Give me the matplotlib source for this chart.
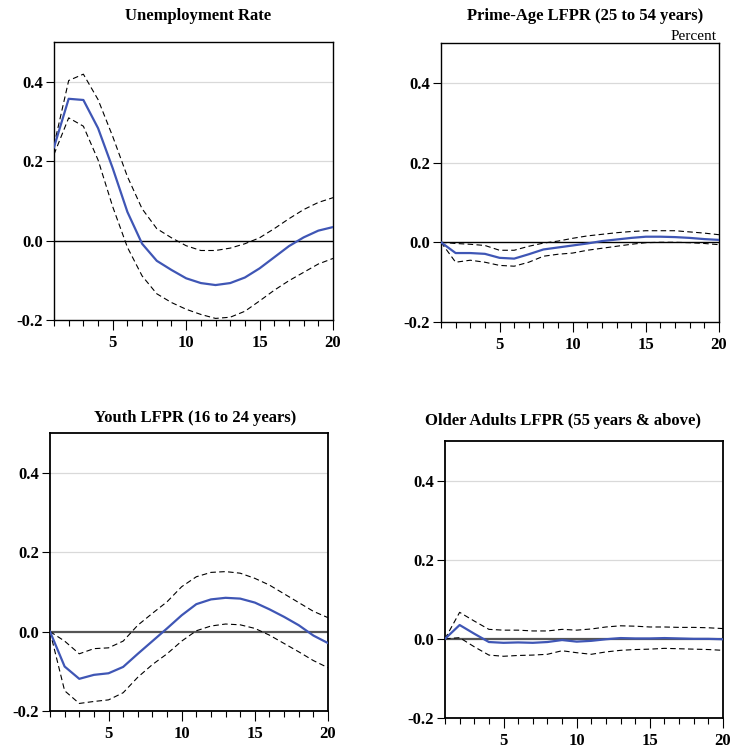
import matplotlib
matplotlib.use("Agg")
import matplotlib.pyplot as plt
from matplotlib.ticker import MultipleLocator, FixedLocator

periods = list(range(1, 21))

unemp_mid = [0.235, 0.357, 0.354, 0.283, 0.182, 0.072, -0.008, -0.051, -0.074, -0.095,
             -0.107, -0.112, -0.107, -0.093, -0.070, -0.042, -0.014, 0.008, 0.025, 0.034]
unemp_hi = [0.240, 0.403, 0.419, 0.355, 0.262, 0.161, 0.080, 0.030, 0.007, -0.013,
            -0.025, -0.025, -0.019, -0.008, 0.007, 0.030, 0.055, 0.078, 0.096, 0.108]
unemp_lo = [0.217, 0.309, 0.288, 0.203, 0.085, -0.017, -0.089, -0.134, -0.156, -0.173,
            -0.186, -0.196, -0.193, -0.178, -0.152, -0.125, -0.101, -0.080, -0.059, -0.045]

prime_mid = [0.0, -0.027, -0.027, -0.029, -0.039, -0.041, -0.030, -0.018, -0.013, -0.008,
             -0.003, 0.003, 0.007, 0.011, 0.014, 0.014, 0.013, 0.011, 0.008, 0.006]
prime_hi = [0.0, -0.003, -0.005, -0.008, -0.020, -0.020, -0.010, -0.002, 0.003, 0.010,
            0.016, 0.020, 0.024, 0.027, 0.029, 0.029, 0.029, 0.026, 0.023, 0.019]
prime_lo = [0.0, -0.050, -0.045, -0.050, -0.058, -0.060, -0.050, -0.035, -0.030, -0.027,
            -0.020, -0.015, -0.010, -0.005, -0.001, 0.000, 0.000, -0.001, -0.003, -0.006]

youth_mid = [0.0, -0.088, -0.119, -0.109, -0.105, -0.089, -0.056, -0.024, 0.008, 0.041,
             0.069, 0.081, 0.085, 0.083, 0.073, 0.056, 0.037, 0.016, -0.010, -0.029]
youth_hi = [0.0, -0.024, -0.056, -0.043, -0.041, -0.024, 0.016, 0.046, 0.075, 0.113,
            0.138, 0.149, 0.151, 0.147, 0.134, 0.117, 0.095, 0.073, 0.051, 0.035]
youth_lo = [0.0, -0.149, -0.181, -0.176, -0.172, -0.154, -0.115, -0.083, -0.056, -0.024,
            0.002, 0.014, 0.019, 0.017, 0.008, -0.009, -0.030, -0.051, -0.073, -0.091]

older_mid = [0.0, 0.035, 0.013, -0.008, -0.010, -0.009, -0.010, -0.008, -0.003, -0.007,
             -0.005, -0.001, 0.002, 0.001, 0.001, 0.002, 0.001, 0.0, 0.0, -0.001]
older_hi = [0.0, 0.067, 0.045, 0.024, 0.022, 0.022, 0.020, 0.020, 0.024, 0.022,
            0.025, 0.030, 0.033, 0.032, 0.030, 0.030, 0.029, 0.029, 0.028, 0.026]
older_lo = [0.0, 0.003, -0.020, -0.041, -0.044, -0.042, -0.041, -0.039, -0.030, -0.035,
            -0.039, -0.033, -0.029, -0.027, -0.026, -0.024, -0.025, -0.026, -0.027, -0.029]

titles = ["Unemployment Rate", "Prime-Age LFPR (25 to 54 years)",
          "Youth LFPR (16 to 24 years)", "Older Adults LFPR (55 years & above)"]
yticks = [-0.2, 0.0, 0.2, 0.4]
ytick_labels = ["-0.2", "0.0", "0.2", "0.4"]
xticks = [5, 10, 15, 20]

W, H = 730, 748
fig = plt.figure(figsize=(W / 100, H / 100), dpi=100)
plt.rcParams['font.family'] = ['Liberation Serif', 'DejaVu Serif']

# pixel boxes: left, right, top, bottom
boxes = [(54, 333, 42, 320), (441, 719, 43, 322), (50, 328, 433, 711), (445, 723, 441, 718)]
title_pos = [(198, 16, 'center'), (585, 16, 'center'), (195, 418, 'center'), (425, 421, 'left')]
zero_colors = ['black', 'black', '#555555', '#555555']
zero_lw = [1.0, 1.0, 1.6, 1.6]
spine_lw = [1.0, 1.0, 1.3, 1.3]

data = [(unemp_mid, unemp_hi, unemp_lo), (prime_mid, prime_hi, prime_lo),
        (youth_mid, youth_hi, youth_lo), (older_mid, older_hi, older_lo)]

blue = '#3F56B5'
for i, ((l, r, t, b), (mid, hi, lo)) in enumerate(zip(boxes, data)):
    ax = fig.add_axes([l / W, 1 - b / H, (r - l) / W, (b - t) / H])
    ax.set_xlim(1, 20)
    ax.set_ylim(-0.2, 0.5)
    for g in [0.2, 0.4]:
        ax.axhline(g, color='#d9d9d9', lw=0.9, zorder=0)
    ax.axhline(0, color=zero_colors[i], lw=zero_lw[i], zorder=1)
    ax.plot(periods, hi, color='black', lw=0.8, ls=(0, (5, 3)), zorder=2)
    ax.plot(periods, lo, color='black', lw=0.8, ls=(0, (5, 3)), zorder=2)
    ax.plot(periods, mid, color=blue, lw=1.6, zorder=3)
    ax.set_yticks(yticks)
    ax.set_yticklabels(ytick_labels)
    ax.xaxis.set_major_locator(FixedLocator(xticks))
    ax.xaxis.set_minor_locator(MultipleLocator(1))
    ax.tick_params(axis='x', which='major', direction='out', length=7, width=0.8,
                   labelsize=12, pad=4)
    ax.tick_params(axis='x', which='minor', direction='out', length=4, width=0.8)
    ax.tick_params(axis='y', which='both', direction='out', length=6, width=0.8,
                   labelsize=12, pad=2)
    for lab in ax.get_xticklabels() + ax.get_yticklabels():
        lab.set_fontweight('bold')
    for s in ax.spines.values():
        s.set_linewidth(spine_lw[i])
        s.set_color('black')
    tx, ty, ha = title_pos[i]
    fig.text(tx / W, 1 - ty / H, titles[i], ha=ha, va='center', fontsize=12,
             fontweight='bold')

fig.text(717 / W, 1 - 36 / H, "Percent", ha='right', va='center', fontsize=11)

fig.savefig("out.png", dpi=100)
